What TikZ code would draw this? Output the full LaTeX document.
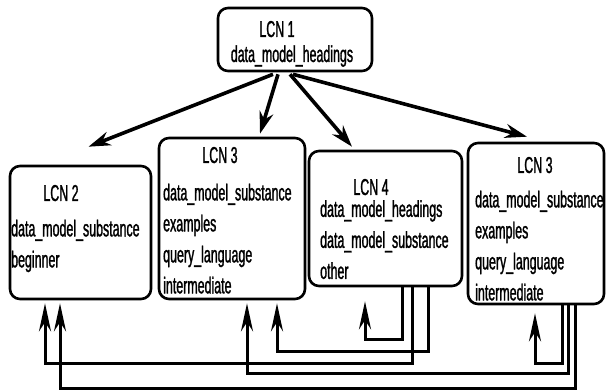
\documentclass[tikz,border=0pt]{standalone}
\usepackage{fontspec}
\setmainfont{Liberation Sans}[FakeStretch=0.54, FakeBold=1.2]
\usetikzlibrary{arrows.meta, calc}

\begin{document}
\begin{tikzpicture}[
  x=1pt, y=-1pt,
  font=\fontsize{23}{31}\selectfont,
  lcn/.style={
    rectangle, draw=black, line width=2.6pt, rounded corners=10pt,
    inner sep=0pt
  },
  title/.style={anchor=base, inner sep=0pt},
  body/.style={anchor=north west, align=left, inner sep=0pt},
  down/.style={line width=3.6pt, -{Stealth[length=22pt,width=14pt]}},
  back/.style={line width=3pt, -{Stealth[length=28pt,width=12pt]}}
]
\useasboundingbox (0,0) rectangle (606,390);

% Boxes
\node[lcn, minimum width=154pt, minimum height=63pt] (lcn1) at (295,39.5) {};
\node[lcn, minimum width=141pt, minimum height=133pt] (lcn2) at (80.5,232.5) {};
\node[lcn, minimum width=146pt, minimum height=161pt] (lcn3a) at (232,218.5) {};
\node[lcn, minimum width=153pt, minimum height=135pt] (lcn4) at (385.5,218.5) {};
\node[lcn, minimum width=136pt, minimum height=161pt] (lcn3b) at (536,223.5) {};

% Box texts
\node[title] (lcn1ttl) at (277,37) {LCN 1};
\node[title] (lcn1txt) at (292,62) {data\_model\_headings};

\node[title] (lcn2ttl) at (61,201) {LCN 2};
\node[body] (lcn2txt) at (11,219.5) {data\_model\_substance\\beginner};

\node[title] (lcn3attl) at (220,163) {LCN 3};
\node[body] (lcn3atxt) at (163,183.5)
  {data\_model\_substance\\examples\\query\_language\\intermediate};

\node[title] (lcn4ttl) at (371,195) {LCN 4};
\node[body] (lcn4txt) at (320,200)
  {data\_model\_headings\\data\_model\_substance\\other};

\node[title] (lcn3bttl) at (535,173) {LCN 3};
\node[body] (lcn3btxt) at (475,190.5)
  {data\_model\_substance\\examples\\query\_language\\intermediate};

% Top arrows
\draw[down] ($(lcn1.south)+(-22,2)$) -- ($(lcn2.north)+(8,-18)$);
\draw[down] ($(lcn1.south)+(-17,2)$) -- ($(lcn3a.north)+(28,-3)$);
\draw[down] ($(lcn1.south)+(-5,2)$) -- ($(lcn4.north)+(-33.5,-3)$);
\draw[down] ($(lcn1.south)+(-2,2)$) -- ($(lcn3b.north)+(-9,-5)$);

% Back links from LCN 4
\draw[back] ($(lcn4.south)+(16.5,0)$) -- ++(0,52) -| ($(lcn4.south)+(-20.5,14)$);
\draw[back] ($(lcn4.south)+(42.5,0)$) -- ++(0,64) -| ($(lcn3a.south)+(45,3)$);
\draw[back] ($(lcn4.south)+(26.5,0)$) -- ++(0,76) -| ($(lcn2.south)+(-35.5,3)$);

% Back links from LCN 3 (right)
\draw[back] ($(lcn3b.south)+(26,0)$) -- ++(0,58) -| ($(lcn3b.south)+(-1,8)$);
\draw[back] ($(lcn3b.south)+(32,0)$) -- ++(0,68) -| ($(lcn3a.south)+(15,3)$);
\draw[back] ($(lcn3b.south)+(39,0)$) -- ++(0,83) -| ($(lcn2.south)+(-20.5,3)$);

\end{tikzpicture}
\end{document}
